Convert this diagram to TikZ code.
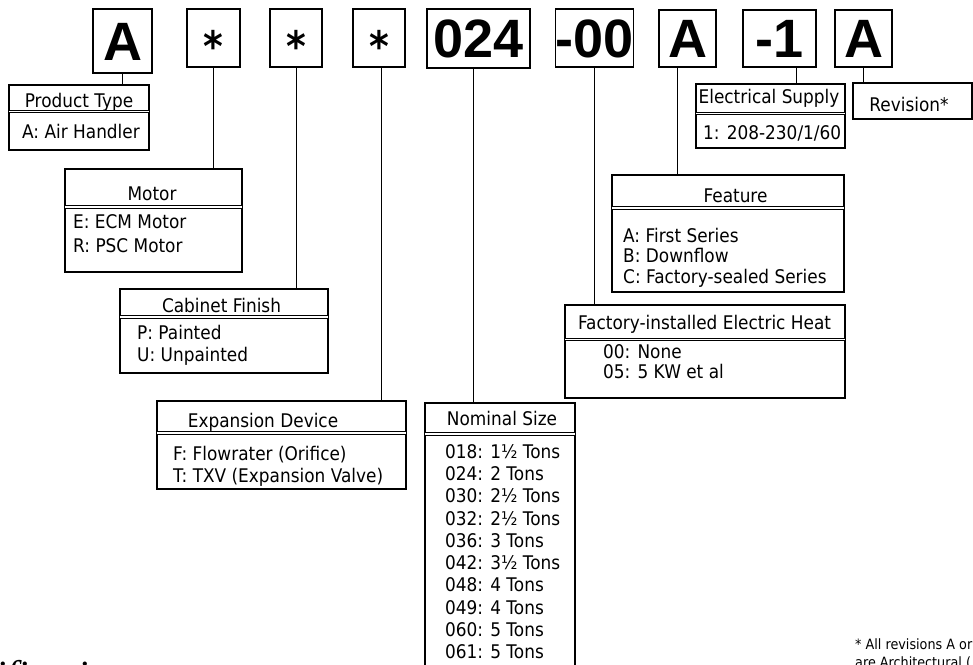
\documentclass[tikz,border=0pt]{standalone}
\usepackage{fontspec}
\setmainfont{DejaVu Sans}[FakeStretch=0.9]
\newfontfamily\capfont{Liberation Serif}
\newfontfamily\codefont{Liberation Sans}

\begin{document}
\begin{tikzpicture}[x=1pt, y=-1pt,
  code/.style={draw, line width=1.4pt, inner sep=0pt, text height=38.7pt, text depth=0pt,
    font=\codefont\fontsize{54}{58}\selectfont\bfseries},
  starbox/.style={code, text height=47pt, font=\fontsize{42}{46}\selectfont\bfseries},
  legbox/.style={draw, line width=1.3pt, inner sep=0pt},
  hdr/.style={double, double distance=1.6pt, line width=0.8pt, shorten <=0.7pt, shorten >=0.7pt},
  ttl/.style={anchor=base, inner sep=0pt, font=\fontsize{18.8}{22}\selectfont},
  itm/.style={anchor=base west, inner sep=0pt, font=\fontsize{18.8}{22}\selectfont},
  link/.style={line width=1pt}]
  \useasboundingbox (0,0) rectangle (973,664);
  \clip (0,0) rectangle (973,664);
  \fill[white] (0,0) rectangle (973,664);

  % Model number boxes
  \node[code, minimum width=59pt, minimum height=64pt] (c1) at (122.5,41) {A};
  \node[starbox, minimum width=53pt, minimum height=58pt] (c2) at (213.5,38) {*};
  \node[starbox, minimum width=52pt, minimum height=58pt] (c3) at (296,38) {*};
  \node[starbox, minimum width=52pt, minimum height=58pt] (c4) at (379,38) {*};
  \node[code, line width=2.2pt, minimum width=103pt, minimum height=59pt] (c5) at (478.5,38.5) {024};
  \node[code, minimum width=75pt, minimum height=58pt] (c6) at (594.5,38) {-00};
  \node[code, minimum width=57pt, minimum height=57pt] (c7) at (687.5,38.5) {A};
  \node[code, minimum width=73pt, minimum height=57pt] (c8) at (779.5,38.5) {-1};
  \node[code, minimum width=57pt, minimum height=57pt] (c9) at (863.5,38.5) {A};

  % Product type
  \node[legbox, minimum width=140pt, minimum height=65pt] (ptype) at (79,117.5) {};
  \draw[hdr] (ptype.west |- 0,111.5) -- (ptype.east |- 0,111.5);
  \node[ttl] (ptypeT) at (79,107) {Product Type};
  \node[itm] (ptypeA) at (22,138) {A: Air Handler};

  % Motor
  \node[legbox, minimum width=177pt, minimum height=103pt] (motor) at (153.5,220.5) {};
  \draw[hdr] (motor.west |- 0,207) -- (motor.east |- 0,207);
  \node[ttl] (motorT) at (152,200) {Motor};
  \node[itm] (motorE) at (73,228) {E: ECM Motor};
  \node[itm] (motorR) at (73,252) {R: PSC Motor};

  % Cabinet finish
  \node[legbox, minimum width=208pt, minimum height=84pt] (cabin) at (224,331) {};
  \draw[hdr] (cabin.west |- 0,317) -- (cabin.east |- 0,317);
  \node[ttl] (cabinT) at (221.5,312) {Cabinet Finish};
  \node[itm] (cabinP) at (137,339) {P: Painted};
  \node[itm] (cabinU) at (137,361) {U: Unpainted};

  % Expansion device
  \node[legbox, minimum width=249pt, minimum height=88pt] (expdev) at (281.5,445) {};
  \draw[hdr] (expdev.west |- 0,433) -- (expdev.east |- 0,433);
  \node[ttl] (expdevT) at (263,427) {Expansion Device};
  \node[itm] (expdevF) at (173,460) {F: Flowrater (Orifice)};
  \node[itm] (expdevT2) at (173,482) {T: TXV (Expansion Valve)};

  % Nominal size
  \node[legbox, minimum width=150pt, minimum height=297pt] (nsize) at (500,551.5) {};
  \draw[hdr] (nsize.west |- 0,434) -- (nsize.east |- 0,434);
  \node[ttl] (nsizeT) at (502,425) {Nominal Size};
  \foreach \t [count=\i from 0] in {018: 1½ Tons, 024: 2 Tons, 030: 2½ Tons,
      032: 2½ Tons, 036: 3 Tons, 042: 3½ Tons, 048: 4 Tons, 049: 4 Tons,
      060: 5 Tons, 061: 5 Tons}
    \node[itm] (ns\i) at (445,{458+22.33*\i}) {\t};

  % Electric heat
  \node[legbox, line width=1.8pt, minimum width=280pt, minimum height=93pt] (heat) at (705,351.5) {};
  \draw[hdr] (heat.west |- 0,339.5) -- (heat.east |- 0,339.5);
  \node[ttl] (heatT) at (704.5,329) {Factory-installed Electric Heat};
  \node[itm] (heat00) at (603,358) {00: None};
  \node[itm] (heat05) at (603,378) {05: 5 KW et al};

  % Feature
  \node[legbox, minimum width=232pt, minimum height=117pt] (feat) at (728,233.5) {};
  \draw[hdr] (feat.west |- 0,208) -- (feat.east |- 0,208);
  \node[ttl] (featT) at (735.5,202) {Feature};
  \node[itm] (featA) at (623,242) {A: First Series};
  \node[itm] (featB) at (623,262) {B: Downflow};
  \node[itm] (featC) at (623,283) {C: Factory-sealed Series};

  % Electrical supply
  \node[legbox, minimum width=149pt, minimum height=64pt] (elec) at (770.5,116) {};
  \draw[hdr] (elec.west |- 0,113.5) -- (elec.east |- 0,113.5);
  \node[ttl] (elecT) at (769,103) {Electrical Supply};
  \node[itm] (elec1) at (703,139) {1: 208-230/1/60};

  % Revision
  \node[legbox, line width=1.8pt, minimum width=119pt, minimum height=36pt] (rev) at (912.5,101) {};
  \node[ttl] (revT) at (909,111) {Revision*};

  % Connectors
  \draw[link] (c1.south) -- (c1.south |- ptype.north);
  \draw[link] (c2.south) -- (c2.south |- motor.north);
  \draw[link] (c3.south) -- (c3.south |- cabin.north);
  \draw[link] ([xshift=2pt]c4.south) -- ([xshift=2pt]c4.south |- expdev.north);
  \draw[link] ([xshift=-5.5pt]c5.south) -- ([xshift=-5.5pt]c5.south |- nsize.north);
  \draw[link] (c6.south) -- (c6.south |- heat.north);
  \draw[link] ([xshift=-10.5pt]c7.south) -- ([xshift=-10.5pt]c7.south |- feat.north);
  \draw[link] ([xshift=16.5pt]c8.south) -- ([xshift=16.5pt]c8.south |- elec.north);
  \draw[link] (c9.south) -- (c9.south |- rev.north);

  % Cut-off texts at the bottom
  \node[anchor=base west, inner sep=0pt, font=\capfont\itshape\fontsize{40}{44}\selectfont]
    (spec) at (-5,688) {ification};
  \node[anchor=base west, inner sep=0pt, align=left, font=\fontsize{14.2}{18}\selectfont]
    (note) at (855,667) {* All revisions A or\\are Architectural (};
\end{tikzpicture}
\end{document}
